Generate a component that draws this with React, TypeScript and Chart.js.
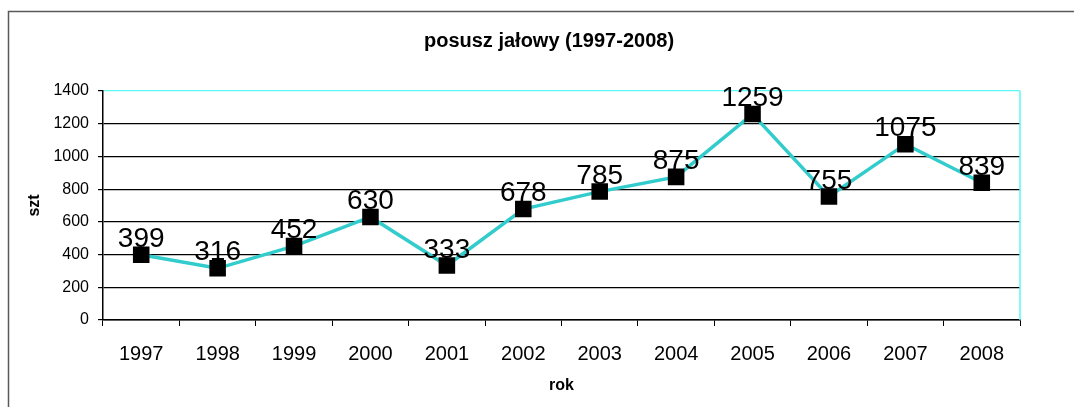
import React, { useEffect, useRef } from "react";
import { Chart, registerables } from "chart.js";

Chart.register(...registerables);

const TITLE = "posusz jałowy (1997-2008)";
const X_TITLE = "rok";
const Y_TITLE = "szt";
const years = ["1997", "1998", "1999", "2000", "2001", "2002", "2003", "2004", "2005", "2006", "2007", "2008"];
const values = [399, 316, 452, 630, 333, 678, 785, 875, 1259, 755, 1075, 839];
const yMin = 0;
const yMax = 1400;
const yStep = 200;

const FONT = "Arial, 'Liberation Sans', sans-serif";

const decorPlugin = {
  id: "decor",
  beforeDraw(chart: any) {
    const ctx = chart.ctx;
    ctx.save();
    ctx.fillStyle = "#ffffff";
    ctx.fillRect(0, 0, chart.width, chart.height);
    // outer frame
    ctx.strokeStyle = "#5a5a5a";
    ctx.lineWidth = 1.5;
    ctx.beginPath();
    ctx.moveTo(8.5, chart.height + 2);
    ctx.lineTo(8.5, 11.5);
    ctx.lineTo(chart.width + 2, 11.5);
    ctx.stroke();
    // title
    ctx.fillStyle = "#000";
    ctx.font = `bold 20px ${FONT}`;
    ctx.textAlign = "center";
    ctx.textBaseline = "middle";
    ctx.fillText(TITLE, 549, 41);
    ctx.restore();
  },
  beforeDatasetsDraw(chart: any) {
    const { ctx, chartArea } = chart;
    ctx.save();
    ctx.strokeStyle = "#5cf7f7";
    ctx.lineWidth = 1.5;
    ctx.beginPath();
    ctx.moveTo(chartArea.right, chartArea.top);
    ctx.lineTo(chartArea.right, chartArea.bottom);
    ctx.stroke();
    ctx.restore();
  },
  afterDatasetsDraw(chart: any) {
    const { ctx } = chart;
    const meta = chart.getDatasetMeta(0);
    ctx.save();
    ctx.fillStyle = "#000";
    ctx.font = `28px ${FONT}`;
    ctx.textAlign = "center";
    ctx.textBaseline = "alphabetic";
    meta.data.forEach((pt: any, i: number) => {
      ctx.fillText(String(values[i]), pt.x, pt.y - 8);
    });
    ctx.restore();
  },
};

export default function App() {
  const ref = useRef<HTMLCanvasElement>(null);
  useEffect(() => {
    if (!ref.current) return;
    const chart = new Chart(ref.current, {
      type: "line",
      data: {
        labels: years,
        datasets: [
          {
            data: values,
            borderColor: "#33cccc",
            borderWidth: 3.5,
            pointStyle: "rect",
            pointRadius: 11.7,
            pointBackgroundColor: "#000",
            pointBorderWidth: 0,
            pointBorderColor: "#000",
            tension: 0,
          },
        ],
      },
      options: {
        animation: false,
        responsive: false,
        devicePixelRatio: 1,
        layout: { padding: { left: 0, right: 54, top: 91, bottom: 0 } },
        plugins: {
          legend: { display: false },
          tooltip: { enabled: false },
          title: { display: false },
        },
        scales: {
          x: {
            type: "category",
            offset: true,
            afterFit: (s: any) => {
              s.height = 87;
            },
            grid: {
              offset: true,
              drawOnChartArea: false,
              drawTicks: true,
              tickLength: 6,
              color: "#000",
              tickColor: "#000",
            },
            border: { display: true, color: "#000", width: 1.5 },
            ticks: {
              color: "#000",
              font: { family: FONT, size: 20 },
              padding: 16,
              maxRotation: 0,
            },
            title: {
              display: true,
              text: X_TITLE,
              color: "#000",
              font: { family: FONT, size: 16, weight: "bold" },
              padding: { top: 0, bottom: 12 },
            },
          },
          y: {
            min: yMin,
            max: yMax,
            afterFit: (s: any) => {
              s.width = 103;
            },
            grid: {
              color: (c: any) => (c.tick && c.tick.value === yMax ? "#5cf7f7" : "#000"),
              tickColor: "#000",
              lineWidth: 1.2,
              tickLength: 5,
              drawTicks: true,
            },
            border: { display: true, color: "#000", width: 1.5 },
            ticks: {
              stepSize: yStep,
              color: "#000",
              font: { family: FONT, size: 16 },
              padding: 9,
              callback: (v: any) => String(v),
            },
            title: {
              display: true,
              text: Y_TITLE,
              color: "#000",
              font: { family: FONT, size: 16, weight: "bold" },
              padding: { top: 25, bottom: 0 },
            },
          },
        },
      },
      plugins: [decorPlugin],
    } as any);
    return () => chart.destroy();
  }, []);
  return (
    <div style={{ position: "absolute", left: 0, top: 0, width: 1074, height: 407 }}>
      <canvas ref={ref} width={1074} height={407} style={{ display: "block", width: 1074, height: 407 }} />
    </div>
  );
}
